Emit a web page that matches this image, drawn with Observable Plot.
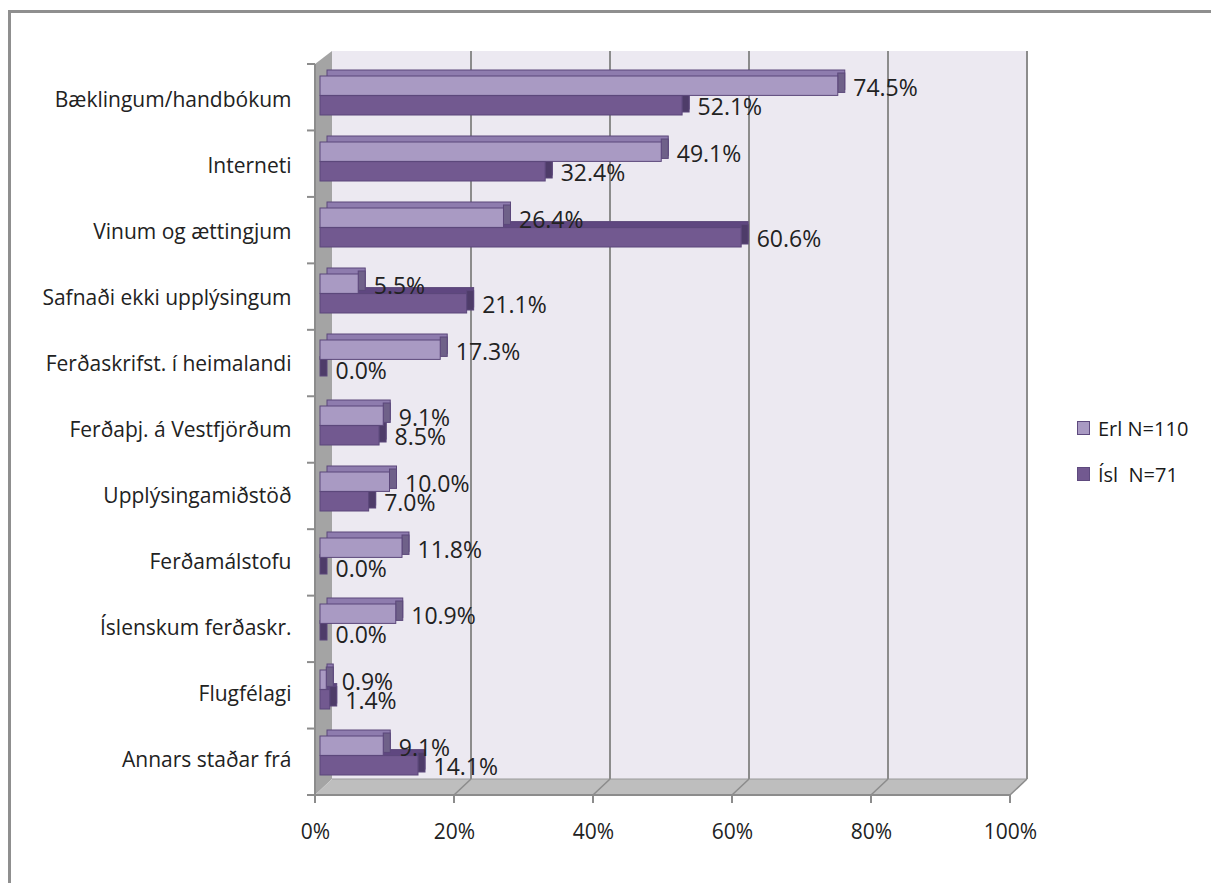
<!DOCTYPE html>
<html>
<head>
<meta charset="utf-8">
<script src="https://cdn.jsdelivr.net/npm/d3@7"></script>
<script src="https://cdn.jsdelivr.net/npm/@observablehq/plot@0.6"></script>
<style>
  body { margin: 0; background: #fff; font-family: "Open Sans", sans-serif; }
  #wrap { position: relative; width: 1211px; height: 883px; overflow: hidden; }
  #chart { position: absolute; left: 0; top: 0; }
  #border { position: absolute; left: 8px; top: 10px; width: 1400px; height: 1000px;
            border-top: 3px solid #8f8f8f; border-left: 3px solid #8f8f8f; pointer-events: none; }
  #legend { position: absolute; left: 1077px; top: 0; font-size: 20px; color: #1a1a1a; }
  #legend .item { position: absolute; left: 0; display: flex; align-items: center; height: 28px; white-space: pre; }
  #legend .sw { display: inline-block; width: 11px; height: 12px; border: 1.5px solid #5e4a7e; margin-right: 8px; }
</style>
</head>
<body>
<div id="wrap">
  <div id="chart"></div>
  <div id="border"></div>
  <div id="legend"></div>
</div>
<script>
// ---- data ----
const categories = [
  "Bæklingum/handbókum",
  "Interneti",
  "Vinum og ættingjum",
  "Safnaði ekki upplýsingum",
  "Ferðaskrifst. í heimalandi",
  "Ferðaþj. á Vestfjörðum",
  "Upplýsingamiðstöð",
  "Ferðamálstofu",
  "Íslenskum ferðaskr.",
  "Flugfélagi",
  "Annars staðar frá"
];
const erlValues = [74.5, 49.1, 26.4, 5.5, 17.3, 9.1, 10.0, 11.8, 10.9, 0.9, 9.1];
const islValues = [52.1, 32.4, 60.6, 21.1, 0.0, 8.5, 7.0, 0.0, 0.0, 1.4, 14.1];
const seriesNames = ["Erl N=110", "Ísl  N=71"];
const xTicks = [0, 0.2, 0.4, 0.6, 0.8, 1.0];

// ---- styles ----
const W = 1211, H = 883;
const mL = 315, mR = 201, mT = 64, mB = 88;
const padInner = 0.41;
const step = (H - mT - mB) / categories.length;
const HALF = step * (1 - padInner) / 2;
const colors = {
  erlFront: "#A99AC3", erlTop: "#8E7CAE", erlEnd: "#6F6189",
  islFront: "#725990", islTop: "#5F4780", islEnd: "#4E3C69",
  edge: "#5B477A"
};
const textColor = "#222";

const rows = categories.map((c, i) => ({ category: c, erl: erlValues[i] / 100, isl: islValues[i] / 100 }));

// decorative 3D walls / axes drawn from the plot's scales & dimensions
function walls(index, scales, values, dim) {
  const x0 = dim.marginLeft, x1 = dim.width - dim.marginRight;
  const yt = dim.marginTop, yb = dim.height - dim.marginBottom;
  const sx = (scales && typeof scales.x === "function") ? scales.x : (t => x0 + t * (x1 - x0));
  const DX = 17, DYT = -13, DYB = -16;
  const g = d3.create("svg:g");
  g.append("rect").attr("x", x0 + DX).attr("y", yt + DYT)
    .attr("width", x1 - x0).attr("height", (yb + DYB) - (yt + DYT)).attr("fill", "#ECE9F1");
  g.append("path").attr("d", `M${x0},${yt}L${x0 + DX},${yt + DYT}L${x0 + DX},${yb + DYB}L${x0},${yb}Z`)
    .attr("fill", "#A4A4A4");
  g.append("path").attr("d", `M${x0},${yb}L${x0 + DX},${yb + DYB}L${x1 + DX},${yb + DYB}L${x1},${yb}Z`)
    .attr("fill", "#BEBEBE");
  g.append("line").attr("x1", x0 + DX).attr("x2", x1 + DX).attr("y1", yb + DYB).attr("y2", yb + DYB)
    .attr("stroke", "#9a9a9a").attr("stroke-width", 1);
  for (const t of xTicks) {
    const xp = sx(t);
    if (t > 0) {
      g.append("line").attr("x1", xp + DX).attr("x2", xp + DX).attr("y1", yt + DYT).attr("y2", yb + DYB)
        .attr("stroke", "#8c8c8c").attr("stroke-width", 2);
      g.append("line").attr("x1", xp + DX).attr("x2", xp).attr("y1", yb + DYB).attr("y2", yb)
        .attr("stroke", "#8c8c8c").attr("stroke-width", 1.5);
    }
    g.append("line").attr("x1", xp).attr("x2", xp).attr("y1", yb).attr("y2", yb + 8)
      .attr("stroke", "#8c8c8c").attr("stroke-width", 2);
  }
  g.append("line").attr("x1", x0).attr("x2", x1).attr("y1", yb).attr("y2", yb)
    .attr("stroke", "#8c8c8c").attr("stroke-width", 2);
  g.append("line").attr("x1", x0).attr("x2", x0).attr("y1", yt).attr("y2", yb)
    .attr("stroke", "#8c8c8c").attr("stroke-width", 2);
  const n = categories.length;
  for (let i = 0; i <= n; i++) {
    const yp = yt + i * (yb - yt) / n;
    g.append("line").attr("x1", x0 - 8).attr("x2", x0).attr("y1", yp).attr("y2", yp)
      .attr("stroke", "#8c8c8c").attr("stroke-width", 2);
  }
  return g.node();
}

const BDX = 5, BDY = -4, DEP = 7, DEPY = -6;
const common = { y: "category", stroke: colors.edge, strokeWidth: 1 };

const chart = Plot.plot({
  width: W, height: H,
  marginLeft: mL, marginRight: mR, marginTop: mT, marginBottom: mB,
  style: { fontFamily: "'Open Sans', sans-serif", background: "white", color: textColor },
  x: { domain: [0, 1], axis: null },
  y: { domain: categories, axis: null, paddingInner: padInner, paddingOuter: padInner / 2 },
  marks: [
    walls,
    // Ísl bar: top face / end face / front
    Plot.barX(rows, { ...common, x1: 0, x2: "isl", insetTop: HALF, insetLeft: DEP, insetRight: -DEP, dx: BDX, dy: BDY + DEPY, fill: colors.islTop }),
    Plot.barX(rows, { ...common, x1: "isl", x2: "isl", insetTop: HALF, insetRight: -DEP, dx: BDX, dy: BDY + DEPY / 2, fill: colors.islEnd }),
    // Erl bar
    Plot.barX(rows, { ...common, x1: 0, x2: "erl", insetBottom: HALF, insetLeft: DEP, insetRight: -DEP, dx: BDX, dy: BDY + DEPY, fill: colors.erlTop }),
    Plot.barX(rows, { ...common, x1: "erl", x2: "erl", insetBottom: HALF, insetRight: -DEP, dx: BDX, dy: BDY + DEPY / 2, fill: colors.erlEnd }),
    Plot.barX(rows, { ...common, x1: 0, x2: "erl", insetBottom: HALF, dx: BDX, dy: BDY, fill: colors.erlFront }),
    Plot.barX(rows, { ...common, x1: 0, x2: "isl", insetTop: HALF, dx: BDX, dy: BDY, fill: colors.islFront }),
    // value labels
    Plot.text(rows, { x: "erl", y: "category", text: d => (d.erl * 100).toFixed(1) + "%", dx: 20, dy: -11,
      textAnchor: "start", fontSize: 23, fill: textColor }),
    Plot.text(rows, { x: "isl", y: "category", text: d => (d.isl * 100).toFixed(1) + "%", dx: 20, dy: 8,
      textAnchor: "start", fontSize: 23, fill: textColor }),
    // category labels
    Plot.text(categories, { y: d => d, frameAnchor: "left", dx: -24, textAnchor: "end", fontSize: 21, fill: textColor }),
    // x tick labels
    Plot.text(xTicks, { x: d => d, frameAnchor: "bottom", dy: 43, text: d => Math.round(d * 100) + "%", fontSize: 21, fill: textColor })
  ]
});
document.getElementById("chart").appendChild(chart);

// legend
const legend = document.getElementById("legend");
const legendFills = [colors.erlFront, colors.islFront];
seriesNames.forEach((name, i) => {
  const item = document.createElement("div");
  item.className = "item";
  item.style.top = (414 + i * 46) + "px";
  const sw = document.createElement("span");
  sw.className = "sw";
  sw.style.background = legendFills[i];
  const label = document.createElement("span");
  label.textContent = name;
  item.appendChild(sw);
  item.appendChild(label);
  legend.appendChild(item);
});
</script>
</body>
</html>
